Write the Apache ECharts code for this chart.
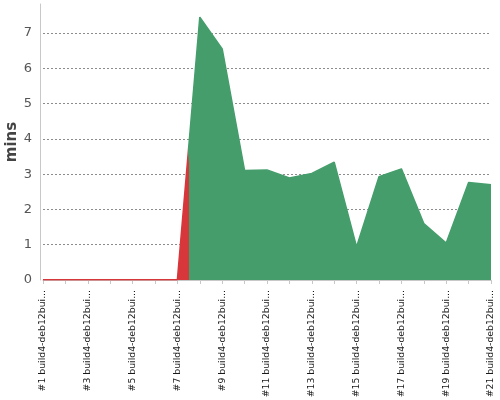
<!DOCTYPE html>
<html>
<head>
<meta charset="utf-8">
<script src="https://cdn.jsdelivr.net/npm/echarts@6/dist/echarts.min.js"></script>
<style>
  html, body { margin: 0; padding: 0; background: #fff; }
  #chart { width: 500px; height: 400px; }
</style>
</head>
<body>
<div id="chart"></div>
<script>
// build names, durations (mins) and results
const builds = [
    '#1 build4-deb12builder', '#2 build4-deb12builder', '#3 build4-deb12builder',
    '#4 build4-deb12builder', '#5 build4-deb12builder', '#6 build4-deb12builder',
    '#7 build4-deb12builder', '#8 build4-deb12builder', '#9 build4-deb12builder',
    '#10 build4-deb12builder', '#11 build4-deb12builder', '#12 build4-deb12builder',
    '#13 build4-deb12builder', '#14 build4-deb12builder', '#15 build4-deb12builder',
    '#16 build4-deb12builder', '#17 build4-deb12builder', '#18 build4-deb12builder',
    '#19 build4-deb12builder', '#20 build4-deb12builder', '#21 build4-deb12builder'
];
const durations = [0.01, 0.01, 0.01, 0.01, 0.01, 0.01, 0.01,
    7.45, 6.55, 3.10, 3.12, 2.89, 3.02, 3.34, 0.94, 2.93, 3.15, 1.60, 1.05, 2.76, 2.70];
const results = ['FAILURE', 'FAILURE', 'FAILURE', 'FAILURE', 'FAILURE', 'FAILURE', 'FAILURE',
    'SUCCESS', 'SUCCESS', 'SUCCESS', 'SUCCESS', 'SUCCESS', 'SUCCESS', 'SUCCESS',
    'SUCCESS', 'SUCCESS', 'SUCCESS', 'SUCCESS', 'SUCCESS', 'SUCCESS', 'SUCCESS'];
const yTicks = [0, 1, 2, 3, 4, 5, 6, 7];

const resultColors = { SUCCESS: '#449d6b', FAILURE: '#d7363a' };

// hard colour stops along x, switching half way between builds of different result
const last = results.length - 1;
const stops = [{ offset: 0, color: resultColors[results[0]] }];
for (let i = 1; i <= last; i++) {
    if (results[i] !== results[i - 1]) {
        const pos = (i - 0.5) / last;
        stops.push({ offset: pos, color: resultColors[results[i - 1]] });
        stops.push({ offset: pos, color: resultColors[results[i]] });
    }
}
stops.push({ offset: 1, color: resultColors[results[last]] });
const fill = new echarts.graphic.LinearGradient(0, 0, 1, 0, stops);

const shortName = (name) => {
    const [num, host] = name.split(' ');
    return num + ' ' + (host.length > 15 ? host.slice(0, 15) + '...' : host);
};

const chart = echarts.init(document.getElementById('chart'));
chart.setOption({
    animation: false,
    textStyle: { fontFamily: 'DejaVu Sans' },
    grid: { left: 43, right: 9, top: 4, bottom: 120, outerBoundsMode: 'none', containLabel: false },
    xAxis: {
        type: 'category',
        data: builds,
        boundaryGap: false,
        offset: 4,
        axisLine: { lineStyle: { color: '#c8c8c8' } },
        axisTick: { interval: 0, length: 4, lineStyle: { color: '#c8c8c8' } },
        axisLabel: {
            interval: 1,
            rotate: 90,
            fontSize: 9.3,
            color: '#1a1a1a',
            margin: 6,
            formatter: shortName
        }
    },
    yAxis: {
        type: 'value',
        name: 'mins',
        nameLocation: 'middle',
        nameGap: 20,
        nameMoveOverlap: false,
        nameTextStyle: { fontSize: 15, color: '#444', fontWeight: 'bold' },
        min: yTicks[0],
        max: Math.max(...durations) * 1.05,
        interval: 1,
        offset: 3,
        axisLine: { show: true, lineStyle: { color: '#c8c8c8' } },
        axisTick: { show: false },
        axisLabel: {
            fontSize: 13,
            color: '#555',
            margin: 8,
            showMaxLabel: false
        },
        splitLine: {
            showMaxLine: false,
            lineStyle: { color: '#8c8c8c', type: [2, 2], width: 1 }
        }
    },
    series: [{
        type: 'line',
        data: durations,
        symbol: 'none',
        lineStyle: { width: 1.5, color: fill },
        areaStyle: { opacity: 1, color: fill }
    }]
});
</script>
</body>
</html>
